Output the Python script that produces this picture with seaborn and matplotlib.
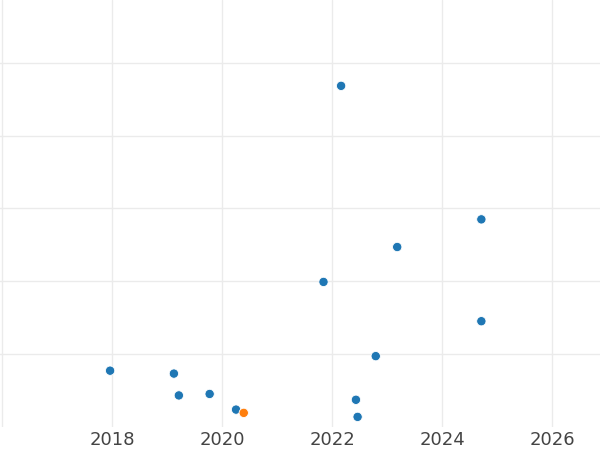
import matplotlib
matplotlib.use("Agg")
import matplotlib.pyplot as plt
import seaborn as sns
import pandas as pd

years = [2017.96, 2019.12, 2019.21, 2019.77, 2020.25, 2021.84, 2022.16,
         2022.43, 2022.46, 2022.79, 2023.18, 2024.71, 2024.71, 2020.39]
values = [15.4, 14.6, 8.6, 9.0, 4.7, 39.8, 93.7,
          7.4, 2.7, 19.4, 49.4, 57.0, 29.0, 3.8]
groups = ["A"] * 13 + ["B"]
xticks = [2016, 2018, 2020, 2022, 2024, 2026]
xticklabels = ["", "2018", "2020", "2022", "2024", "2026"]
yticks = [20, 40, 60, 80, 100]

df = pd.DataFrame({"year": years, "value": values, "group": groups})

sns.set_theme(style="whitegrid", rc={"grid.color": "#ebebeb", "grid.linewidth": 1.0})
plt.rcParams["font.family"] = ["DejaVu Sans"]

fig = plt.figure(figsize=(6, 4.5), dpi=100)
W, H = 600, 450
left_px, right_px = -20, 620
bottom_px, top_px = 426.7, 0
ax = fig.add_axes([left_px / W, (H - bottom_px) / H, (right_px - left_px) / W, (bottom_px - top_px) / H])

sns.scatterplot(data=df, x="year", y="value", hue="group",
                palette={"A": "#1f77b4", "B": "#ff7f0e"}, s=45,
                edgecolor="white", linewidth=0.6, legend=False, ax=ax, zorder=3)

px_per_year = 55.0
x0_px = 2.3
ax.set_xlim(2016 + (left_px - x0_px) / px_per_year, 2016 + (right_px - x0_px) / px_per_year)
ax.set_ylim(0, (bottom_px - top_px) / 72.75 * 20)
ax.set_xticks(xticks)
ax.set_xticklabels(xticklabels)
ax.set_yticks(yticks)
ax.set_yticklabels([])
ax.set_xlabel("")
ax.set_ylabel("")
ax.tick_params(axis="x", labelsize=13, colors="#444444", length=0, pad=3)
ax.tick_params(axis="y", length=0)
for s in ax.spines.values():
    s.set_visible(False)

fig.savefig("out.png", dpi=100)
